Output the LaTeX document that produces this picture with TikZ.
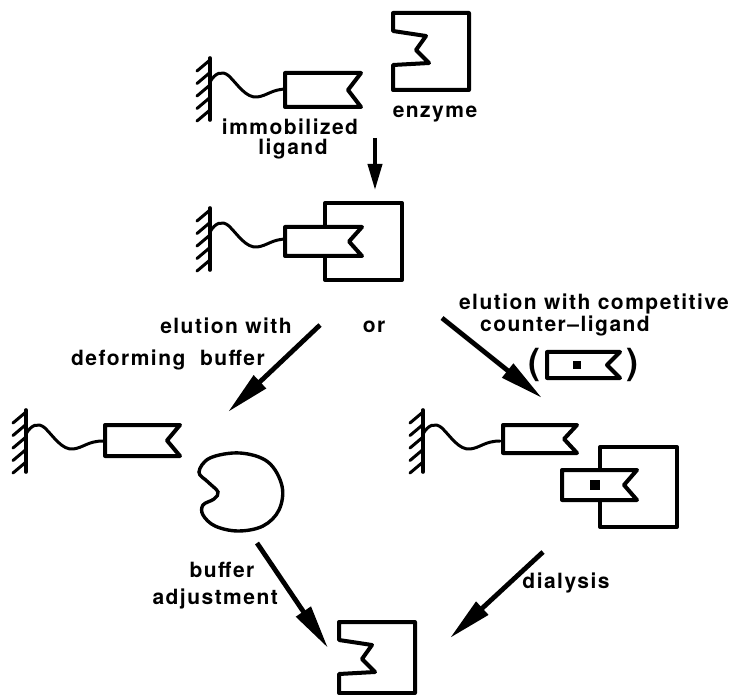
\documentclass[tikz,border=0pt]{standalone}
\usepackage{fontspec}
\setmainfont{TeX Gyre Heros}[LetterSpace=7]
\usetikzlibrary{arrows.meta}

% ligand tag: rectangle with a V notch on its right end
\newcommand\tagshape[4]{%
  \draw[outline, fill=white] (#1,#2) -- ++(#3,0) -- ++(-13,{#4/2}) -- ++(13,{#4/2}) -- ++(-#3,0) -- cycle;}
% free enzyme: square with a notched binding pocket on the left
\newcommand\enzymeshape[3]{%
  \draw[outline] (#1,#2) -- ++(76,0) -- ++(0,#3) -- ++(-76,0) -- ++(0,{-(#3-52)}) -- ++(36,-2) -- ++(-13,-13) -- ++(10,-14) -- ++(-33,-5) -- cycle;}

\begin{document}
\begin{tikzpicture}[x=1pt, y=-1pt,
  outline/.style={line width=4pt, line join=round, line cap=round},
  thinline/.style={line width=3pt, line cap=round, line join=round},
  lbl/.style={font=\fontsize{21}{22}\selectfont\bfseries, inner sep=0pt, anchor=base},
  paren/.style={font=\fontsize{36}{36}\selectfont\bfseries, inner sep=0pt},
  flow/.style={line width=4.8pt, -{Triangle[length=44pt,width=17pt]}},
  smallflow/.style={line width=3.8pt, -{Triangle[length=26pt,width=14pt]}},
  support/.pic={
    \draw[line width=3.6pt, line cap=round] (0,0) -- (0,62);
    \foreach \k in {0,...,4} \draw[thinline] (0,{2+12.5*\k}) -- ++(-13,11);
    \draw[thinline] (0,24) .. controls (5,15) and (12,12) .. (19,18)
      .. controls (28,27) and (36,40) .. (47,39)
      .. controls (57,38) and (62,31) .. (77,31);
  }]
\useasboundingbox (0,0) rectangle (737,695);

% ---- starting materials ----
\pic (sup1) at (210,58) {support};
\tagshape{285}{73}{76}{34}
\enzymeshape{393}{13}{77}
\node[lbl] (immob) at (290,135) {immobilized};
\node[lbl] (lig) at (293,155) {ligand};
\node[lbl] (enz) at (435,118) {enzyme};

\coordinate (t1) at (375,138);
\coordinate (t2) at (375,190);
\draw[smallflow] (t1) -- (t2);

% ---- enzyme bound to the immobilized ligand ----
\draw[outline] (325,227) -- (325,203) -- (402,203) -- (402,280) -- (325,280) -- (325,256);
\pic (sup2) at (210,208) {support};
\tagshape{285}{227}{77}{29}

% ---- the two elution routes ----
\node[lbl] (elw) at (226,334) {elution with};
\node[lbl] (defb) at (168,366) {deforming\ \ buffer};
\node[lbl] (or) at (374,333) {or};
\node[lbl] (elc) at (594,310) {elution with competitive};
\node[lbl] (ctr) at (565,331) {counter--ligand};
\node[paren] (lpar) at (534,365) {(};
\node[paren] (rpar) at (632,365) {)};
\tagshape{547}{352}{73}{26}
\fill (573,361) rectangle (581,369);

\coordinate (l1) at (320,325);
\coordinate (l2) at (228,412);
\draw[flow] (l1) -- (l2);
\coordinate (r1) at (442,318);
\coordinate (r2) at (542,398);
\draw[flow] (r1) -- (r2);

% ---- left: deformed enzyme released ----
\pic (sup3) at (26,410) {support};
\tagshape{105}{425}{75}{31}
\draw[line width=3.4pt] plot[smooth cycle, tension=0.6] coordinates {
  (210,458) (240,453) (268,462) (282,486) (279,510) (263,526) (238,531)
  (215,526) (203,515) (203,505) (214,499) (218,492) (208,482) (199,472)};

% ---- right: enzyme carrying the counter-ligand ----
\pic (sup4) at (423,410) {support};
\tagshape{503}{425}{74}{28}
\draw[outline] (600,470) -- (600,447) -- (677,447) -- (677,527) -- (600,527) -- (600,500);
\tagshape{562}{470}{75}{30}
\fill (590,480) rectangle (600,490);

% ---- recovery of the free enzyme ----
\node[lbl] (buf) at (222,577) {buffer};
\node[lbl, anchor=base east] (adj) at (278,604) {adjustment};
\node[lbl] (dia) at (566,588) {dialysis};

\coordinate (b1) at (257,543);
\coordinate (b2) at (328,648);
\draw[flow] (b1) -- (b2);
\coordinate (d1) at (543,552);
\coordinate (d2) at (450,638);
\draw[flow] (d1) -- (d2);

\enzymeshape{339}{622}{71}
\end{tikzpicture}
\end{document}
